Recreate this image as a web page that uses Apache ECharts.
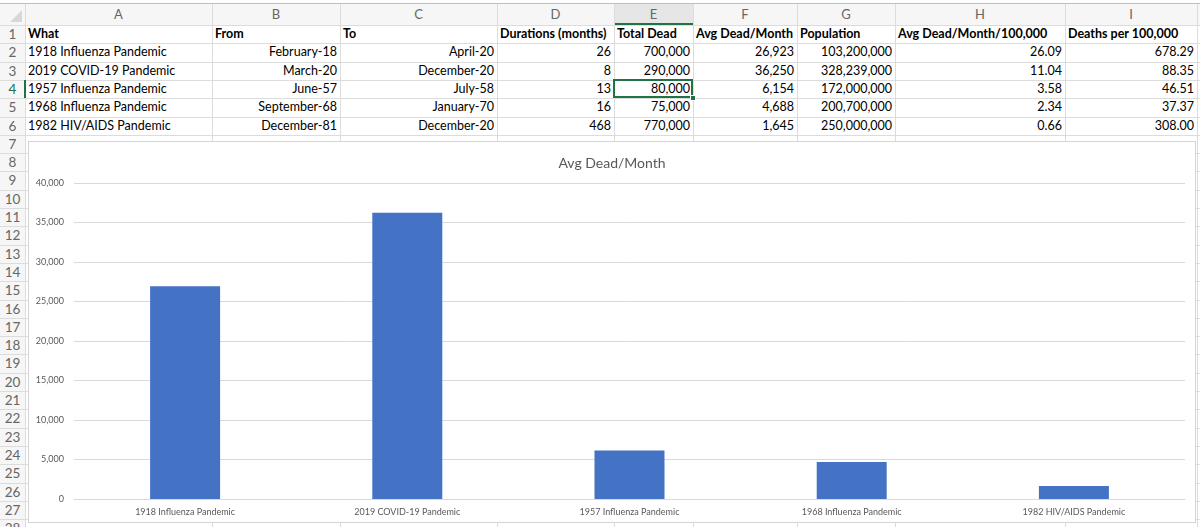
<!DOCTYPE html>
<html>
<head>
<meta charset="utf-8">
<script src="https://cdn.jsdelivr.net/npm/echarts@6/dist/echarts.min.js"></script>
<style>
  html,body{margin:0;padding:0;width:1200px;height:527px;overflow:hidden;background:#fff;font-family:Lato,"Open Sans",sans-serif;}
  #sheet{position:absolute;left:0;top:0;width:1200px;height:527px;}
  .cell{position:absolute;box-sizing:border-box;white-space:nowrap;overflow:hidden;font-size:12.5px;color:#000;line-height:18px;padding:0 3px;}
  .hdr{position:absolute;box-sizing:border-box;text-align:center;color:#666;font-size:13px;}
  .vl{position:absolute;width:1px;background:#dcdcdc;}
  .hl{position:absolute;height:1px;background:#dcdcdc;}
  #chart{position:absolute;left:28px;top:141px;width:1168px;height:382px;background:#fff;border:1px solid #d4d4d4;box-sizing:border-box;}
</style>
</head>
<body>
<div id="sheet"></div>
<div id="chart"></div>
<script>
// ---- data ----
const columnLetters = ["A","B","C","D","E","F","G","H","I"];
const headers = ["What","From","To","Durations (months)","Total Dead","Avg Dead/Month","Population","Avg Dead/Month/100,000","Deaths per 100,000"];
const what = ["1918 Influenza Pandemic","2019 COVID-19 Pandemic","1957 Influenza Pandemic","1968 Influenza Pandemic","1982 HIV/AIDS Pandemic"];
const fromDates = ["February-18","March-20","June-57","September-68","December-81"];
const toDates = ["April-20","December-20","July-58","January-70","December-20"];
const durations = [26, 8, 13, 16, 468];
const totalDead = [700000, 290000, 80000, 75000, 770000];
const avgDeadPerMonth = [26923, 36250, 6154, 4688, 1645];
const population = [103200000, 328239000, 172000000, 200700000, 250000000];
const avgPer100k = ["26.09","11.04","3.58","2.34","0.66"];
const deathsPer100k = ["678.29","88.35","46.51","37.37","308.00"];
const yTicks = { min: 0, max: 40000, interval: 5000 };

// ---- spreadsheet layout ----
const colEdges = [25,212,340,497,614,693,797,895,1065,1197];
const rowTop = 25, rowH = 18.3, nRows = 28;
const sheet = document.getElementById('sheet');
function add(cls, style, text){
  const d=document.createElement('div'); d.className=cls; Object.assign(d.style,style);
  if(text!==undefined) d.textContent=text; sheet.appendChild(d); return d;
}
const fmt = n => n.toLocaleString('en-US');
// header row background
add('', {position:'absolute',left:'0px',top:'3px',width:'1200px',height:'22px',background:'#f6f6f6',borderTop:'1px solid #bdbdbd',boxSizing:'border-box'});
add('', {position:'absolute',left:'0px',top:'25px',width:'25px',height:'502px',background:'#f6f6f6'});
// selected column header E
add('', {position:'absolute',left:colEdges[4]+'px',top:'4px',width:(colEdges[5]-colEdges[4])+'px',height:'21px',background:'#e6e6e6',borderBottom:'2px solid #217346',boxSizing:'border-box'});
// corner triangle
add('', {position:'absolute',left:'10px',top:'10px',width:0,height:0,borderLeft:'12px solid transparent',borderBottom:'12px solid #d8d8d8'});
// column letters
columnLetters.forEach((L,i)=>{
  add('hdr',{left:colEdges[i]+'px',top:'6px',width:(colEdges[i+1]-colEdges[i])+'px',lineHeight:'16px'},L);
});
// row numbers and horizontal lines
for(let r=1;r<=nRows;r++){
  const y = rowTop+(r-1)*rowH;
  add('hdr',{left:'0px',top:(y+1)+'px',width:'25px',lineHeight:'17px',fontSize:'13.5px',color: r===4?'#217346':'#666'},String(r));
  add('hl',{left:'0px',top:Math.round(y)+'px',width:'1200px'});
}
// vertical lines
colEdges.forEach(x=>add('vl',{left:x+'px',top:'4px',height:'523px'}));
// row 4 header marker
add('', {position:'absolute',left:'24px',top:(rowTop+3*rowH)+'px',width:'2px',height:rowH+'px',background:'#217346'});
// header cells (row 1)
headers.forEach((h,i)=>{
  add('cell',{left:colEdges[i]+'px',top:(rowTop)+'px',width:(colEdges[i+1]-colEdges[i])+'px',fontWeight:'bold',textAlign:'left'},h);
});
// data rows
const cols = [what, fromDates, toDates, durations.map(String), totalDead.map(fmt), avgDeadPerMonth.map(fmt), population.map(fmt), avgPer100k, deathsPer100k];
for(let r=0;r<what.length;r++){
  cols.forEach((c,i)=>{
    add('cell',{left:colEdges[i]+'px',top:(rowTop+(r+1)*rowH)+'px',width:(colEdges[i+1]-colEdges[i])+'px',textAlign:i===0?'left':'right'},c[r]);
  });
}
// selected cell E4
add('', {position:'absolute',left:(colEdges[4]-1)+'px',top:(rowTop+3*rowH-1)+'px',width:(colEdges[5]-colEdges[4]+1)+'px',height:(rowH+1)+'px',border:'2px solid #217346',boxSizing:'border-box'});
add('', {position:'absolute',left:(colEdges[5]-3)+'px',top:(rowTop+4*rowH-3)+'px',width:'6px',height:'6px',background:'#217346',border:'1px solid #fff',boxSizing:'border-box'});

// ---- chart ----
const chart = echarts.init(document.getElementById('chart'));
const font = 'Lato, "Open Sans", sans-serif';
chart.setOption({
  animation:false,
  title:{text:'Avg Dead/Month',left:'center',top:9,textStyle:{color:'#595959',fontSize:14,fontWeight:'normal',fontFamily:font}},
  grid:{left:45,right:10,top:41,bottom:23},
  xAxis:{type:'category',data:what,
    axisLine:{lineStyle:{color:'#d9d9d9'}},axisTick:{show:false},
    axisLabel:{color:'#595959',fontSize:9,fontFamily:font,margin:9}},
  yAxis:{type:'value',min:yTicks.min,max:yTicks.max,interval:yTicks.interval,
    axisLine:{show:false},axisTick:{show:false},
    splitLine:{lineStyle:{color:'#d9d9d9'}},
    axisLabel:{color:'#595959',fontSize:9,fontFamily:font,margin:10,formatter:v=>v.toLocaleString('en-US')}},
  series:[{type:'bar',data:avgDeadPerMonth,barWidth:'31.5%',itemStyle:{color:'#4472C4'}}]
});
</script>
</body>
</html>
